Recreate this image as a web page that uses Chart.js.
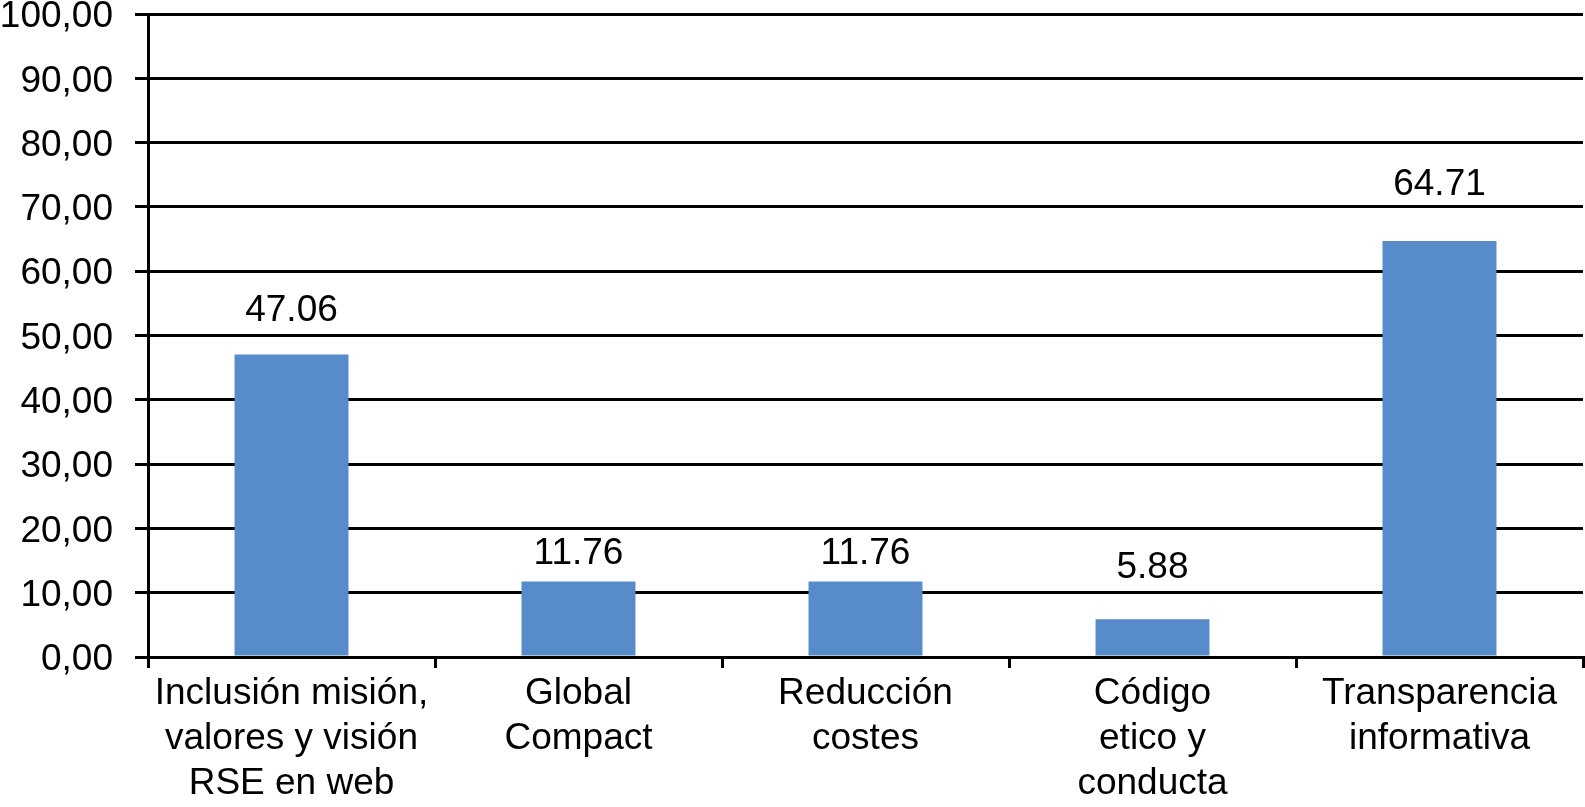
<!DOCTYPE html>
<html>
<head>
<meta charset="utf-8">
<script src="https://cdn.jsdelivr.net/npm/chart.js@4/dist/chart.umd.min.js"></script>
<style>
  html, body { margin: 0; padding: 0; background: #fff; }
  canvas { display: block; }
</style>
</head>
<body>
<canvas id="myChart" width="1585" height="807"></canvas>
<script>
const categories = [
    ['Inclusión misión,', 'valores y visión', 'RSE en web'],
    ['Global', 'Compact'],
    ['Reducción', 'costes'],
    ['Código', 'etico y', 'conducta'],
    ['Transparencia', 'informativa']
];
const values = [47.06, 11.76, 11.76, 5.88, 64.71];
const valueLabels = ['47.06', '11.76', '11.76', '5.88', '64.71'];

// how far above each bar top the number sits (px), as in the original
const labelLift = [44, 28, 28, 51, 56];

const FONT = '"Liberation Sans", Arial, Helvetica, sans-serif';

const barLabels = {
    id: 'barLabels',
    afterDatasetsDraw(chart) {
        const c = chart.ctx;
        const meta = chart.getDatasetMeta(0);
        c.save();
        c.font = '37px ' + FONT;
        c.fillStyle = '#000';
        c.textAlign = 'center';
        c.textBaseline = 'middle';
        meta.data.forEach((bar, i) => {
            c.fillText(valueLabels[i], bar.x, bar.y - labelLift[i]);
        });
        c.restore();
    }
};

const ctx = document.getElementById('myChart').getContext('2d');
new Chart(ctx, {
    type: 'bar',
    data: {
        labels: categories,
        datasets: [{
            data: values,
            backgroundColor: '#588BCA',
            borderWidth: 0,
            barPercentage: 0.397,
            categoryPercentage: 1
        }]
    },
    options: {
        responsive: false,
        animation: false,
        layout: { padding: { top: 14, right: 2, bottom: 0, left: 0 } },
        plugins: {
            legend: { display: false },
            tooltip: { enabled: false }
        },
        scales: {
            x: {
                offset: true,
                grid: {
                    offset: true,
                    drawOnChartArea: false,
                    drawTicks: true,
                    tickLength: 11,
                    color: '#000',
                    lineWidth: 3
                },
                border: { display: true, color: '#000', width: 3 },
                ticks: {
                    color: '#000',
                    padding: 3,
                    maxRotation: 0,
                    autoSkip: false,
                    font: { family: FONT, size: 37, lineHeight: 1.22 }
                },
                afterFit(scale) {
                    scale.height = 150;
                    scale.paddingLeft = 0;
                    scale.paddingRight = 0;
                }
            },
            y: {
                min: 0,
                max: 100,
                grid: {
                    color: '#000',
                    lineWidth: 3,
                    tickLength: 13
                },
                border: { display: true, color: '#000', width: 3 },
                ticks: {
                    stepSize: 10,
                    color: '#000',
                    padding: 22,
                    labelOffset: 3,
                    font: { family: FONT, size: 37 },
                    callback: (v) => v.toFixed(2).replace('.', ',')
                },
                afterFit(scale) {
                    scale.width = 148;
                    scale.paddingTop = 0;
                    scale.paddingBottom = 0;
                }
            }
        }
    },
    plugins: [barLabels]
});
</script>
</body>
</html>
